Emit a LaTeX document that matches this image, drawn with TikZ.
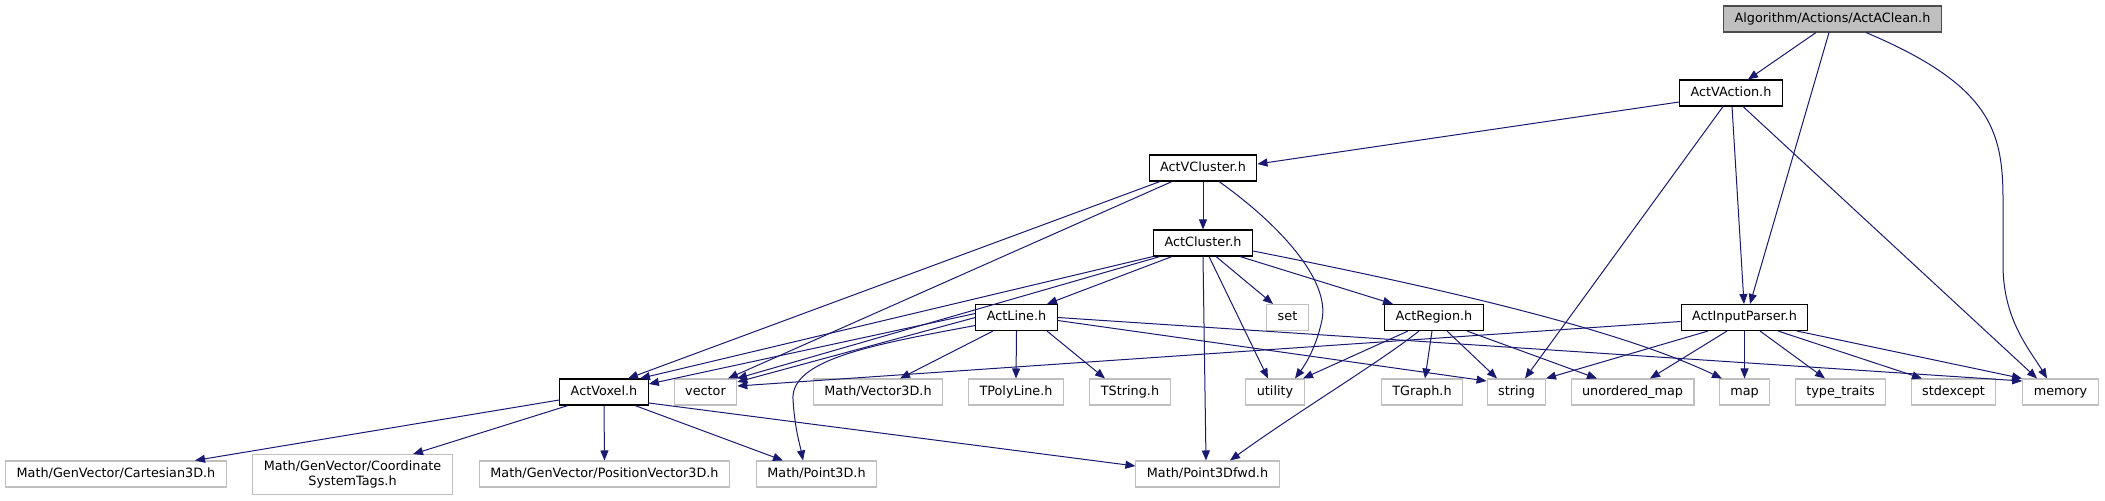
\documentclass[tikz,border=0pt]{standalone}
\usepackage{fontspec}
\setmainfont{DejaVu Sans}
\usetikzlibrary{calc,arrows.meta}
\definecolor{edgeblue}{HTML}{191970}
\definecolor{grey75}{HTML}{BFBFBF}
\begin{document}
\begin{tikzpicture}[x=0.75pt,y=-0.75pt,font=\fontsize{9.6}{11.5}\selectfont,
  base/.style={rectangle,fill=white,line width=0.8pt,inner xsep=8.25pt},
  box/.style={base,draw=black,inner ysep=0pt,minimum height=19.5pt,text height=7.1pt,text depth=2.3pt},
  ext/.style={box,draw=grey75},
  root/.style={box,fill=grey75,draw=black!70},
  exttwo/.style={base,draw=grey75,inner ysep=4.5pt,align=center},
  edge/.style={draw=edgeblue,line width=0.75pt,-{Triangle[length=7.5pt,width=6pt]}}]
\useasboundingbox (0,0) rectangle (2105,500);
% headers of the project
\node[root] (clean) at (1832.5,19) {Algorithm/Actions/ActAClean.h};
\node[box] (vaction) at (1731,93) {ActVAction.h};
\node[box] (vcluster) at (1203,168) {ActVCluster.h};
\node[box] (cluster) at (1203,243) {ActCluster.h};
\foreach \n/\x/\t in {line/1016.5/ActLine.h,region/1434/ActRegion.h,parser/1744.5/ActInputParser.h}
  \node[box] (\n) at (\x,317.5) {\t};
\node[ext] (set) at (1287.5,317.5) {set};
\node[box] (voxel) at (604,392) {ActVoxel.h};
% system and ROOT headers
\foreach \n/\x/\t in {vector/705.5/vector,vecthree/878/{Math/Vector3D.h},polyline/1016/TPolyLine.h,
  tstring/1130/TString.h,utility/1275/utility,tgraph/1422/TGraph.h,string/1516.5/string,
  umap/1632.5/unordered\_map,map/1744.5/map,traits/1840.5/type\_traits,stdexcept/1953.5/stdexcept,
  memory/2060.5/memory}
  \node[ext] (\n) at (\x,392) {\t};
\foreach \n/\x/\t in {cart/116/{Math/GenVector/Cartesian3D.h},posvec/604.5/{Math/GenVector/PositionVector3D.h},
  point/816.5/{Math/Point3D.h},pfwd/1207.5/{Math/Point3Dfwd.h}}
  \node[ext] (\n) at (\x,474) {\t};
\node[exttwo] (coord) at (352.5,474.5) {Math/GenVector/Coordinate\\SystemTags.h};
% includes, bottom of one box to top of the next
\foreach \a/\da/\b/\db in {clean/-16.5/vaction/17,clean/-3.5/parser/5.5,vaction/-8/string/8.5,
  vaction/1/parser/-0.5,vaction/12/memory/-23.5,vcluster/0/cluster/0,vcluster/-43/voxel/24,
  vcluster/-31/vector/22.5,cluster/-31/line/30.5,cluster/-50/voxel/36,cluster/-43/vector/31.5,
  cluster/13/set/-14.5,cluster/37/region/-41,cluster/6/utility/-7,cluster/0/pfwd/-1.5,
  line/-23.5/vecthree/22,line/0/polyline/0,line/30.5/tstring/-25,region/-26/utility/28,
  region/-2/tgraph/3,region/13/string/-19.5,region/33/umap/-35.5,parser/-36.5/string/29.5,
  parser/-17.5/umap/17.5,parser/0/map/0,parser/15.5/traits/-15.5,parser/33.5/stdexcept/-31.5,
  parser/52.5/memory/-38.5,voxel/-36/coord/60.5,voxel/0/posvec/0,voxel/31/point/-33.5}
  \draw[edge] ($(\a.south)+(\da,0)$) -- ($(\b.north)+(\db,0)$);
% the rest
\draw[edge] ($(vaction.west)+(0,9)$) -- ($(vcluster.east)+(0,-4)$);
\draw[edge] ($(clean.south)+(33.5,0)$) .. controls (1990,85) and (2003,130) .. (2003,200)
  -- (2003,265) .. controls (2003,320) and (2030,350) .. ($(memory.north)+(-13.5,0)$);
\draw[edge] ($(vcluster.south)+(16,0)$) .. controls (1280,225) and (1330,280) .. (1322,320)
  .. controls (1316,348) and (1305,365) .. ($(utility.north)+(20,0)$);
\draw[edge] ($(cluster.east)+(0,8)$) .. controls (1450,290) and (1620,330) .. ($(map.north)+(-22.5,0)$);
\draw[edge] ($(line.west)+(0,-4)$) -- ($(voxel.east)+(0,-8)$);
\draw[edge] (line.west) -- ($(vector.east)+(0,-10)$);
\draw[edge] ($(line.east)+(0,3)$) -- ($(string.west)+(0,-11)$);
\draw[edge] (line.east) -- ($(memory.west)+(0,-11)$);
\draw[edge] ($(line.west)+(0,8)$) .. controls (870,345) and (790,360) .. (793,400)
  .. controls (795,430) and (800,445) .. ($(point.north)+(-13.5,0)$);
\draw[edge] ($(region.south)+(-15,0)$) .. controls (1380,362) and (1300,410) .. ($(pfwd.north)+(22.5,0)$);
\draw[edge] ($(parser.west)+(0,4)$) -- ($(vector.east)+(0,-6)$);
\draw[edge] ($(voxel.west)+(0,8)$) -- ($(cart.north)+(79,0)$);
\draw[edge] ($(voxel.east)+(0,11)$) -- ($(pfwd.west)+(0,-8)$);
\end{tikzpicture}
\end{document}
